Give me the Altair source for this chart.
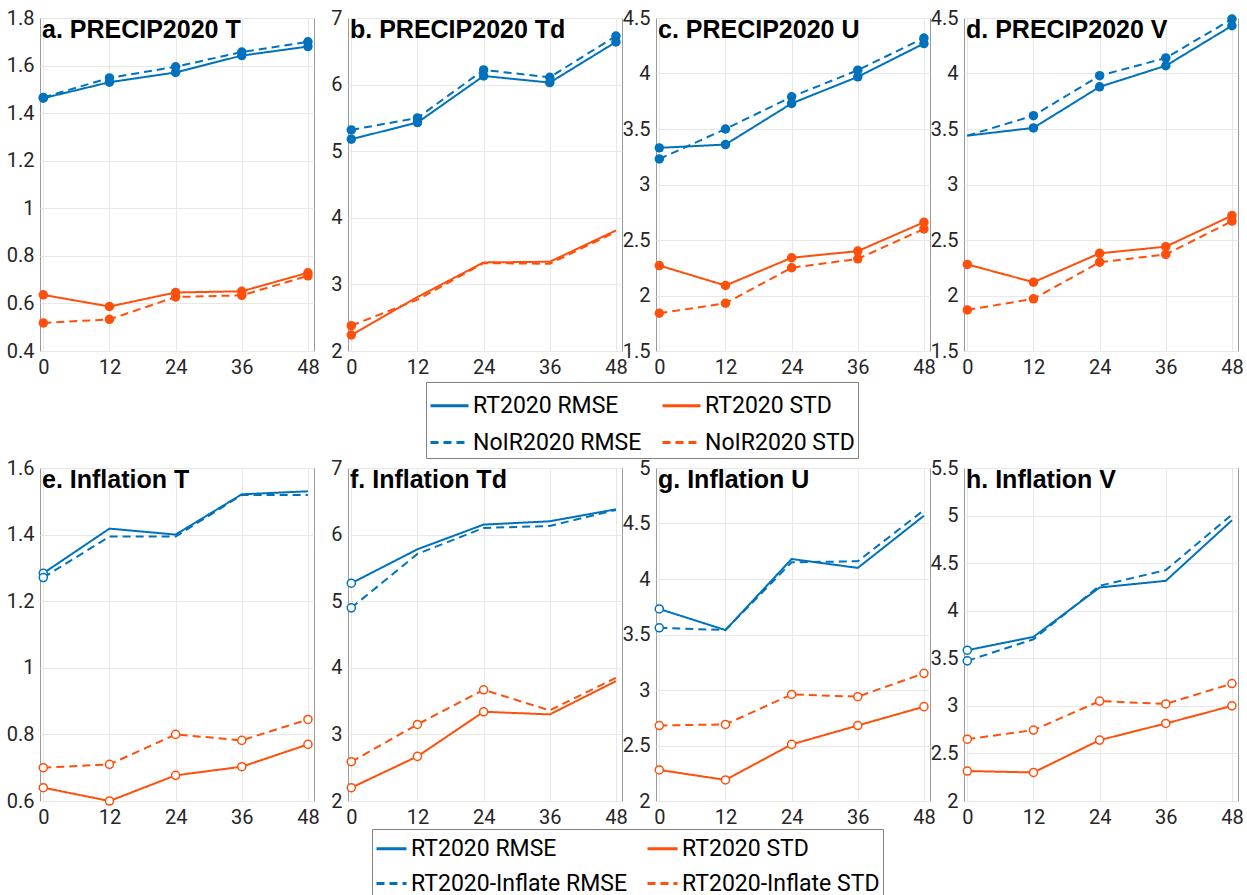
import altair as alt
import pandas as pd
import numpy as np

steps = [0, 12, 24, 36, 48]

BLUE = "#0072BD"
ORANGE = "#FF4F0A"

top_series = ["RT2020 RMSE", "RT2020 STD", "NoIR2020 RMSE", "NoIR2020 STD"]
bottom_series = ["RT2020 RMSE", "RT2020 STD", "RT2020-Inflate RMSE", "RT2020-Inflate STD"]

# ---- PRECIP2020 panels ----
a_rt_rmse = [1.463, 1.530, 1.571, 1.642, 1.680]
a_rt_std = [0.636, 0.587, 0.646, 0.651, 0.729]
a_noir_rmse = [1.466, 1.548, 1.595, 1.657, 1.700]
a_noir_std = [0.518, 0.533, 0.627, 0.634, 0.716]

b_rt_rmse = [5.18, 5.43, 6.13, 6.03, 6.64]
b_rt_std = [2.24, 2.81, 3.33, 3.34, 3.81]
b_noir_rmse = [5.32, 5.50, 6.22, 6.11, 6.73]
b_noir_std = [2.38, 2.77, 3.32, 3.31, 3.79]

c_rt_rmse = [3.33, 3.36, 3.73, 3.97, 4.27]
c_rt_std = [2.27, 2.09, 2.34, 2.40, 2.66]
c_noir_rmse = [3.23, 3.50, 3.79, 4.03, 4.32]
c_noir_std = [1.84, 1.93, 2.25, 2.33, 2.60]

d_rt_rmse = [3.44, 3.51, 3.88, 4.07, 4.43]
d_rt_std = [2.28, 2.12, 2.38, 2.44, 2.72]
d_noir_rmse = [3.44, 3.62, 3.98, 4.14, 4.49]
d_noir_std = [1.87, 1.97, 2.30, 2.37, 2.67]

# ---- Inflation panels ----
e_rt_rmse = [1.284, 1.418, 1.400, 1.521, 1.530]
e_rt_std = [0.640, 0.600, 0.677, 0.703, 0.770]
e_inf_rmse = [1.271, 1.394, 1.394, 1.519, 1.519]
e_inf_std = [0.700, 0.710, 0.800, 0.782, 0.845]

f_rt_rmse = [5.27, 5.78, 6.15, 6.20, 6.38]
f_rt_std = [2.20, 2.67, 3.34, 3.30, 3.80]
f_inf_rmse = [4.90, 5.71, 6.10, 6.13, 6.37]
f_inf_std = [2.59, 3.15, 3.67, 3.36, 3.85]

g_rt_rmse = [3.73, 3.54, 4.18, 4.10, 4.57]
g_rt_std = [2.28, 2.19, 2.51, 2.68, 2.85]
g_inf_rmse = [3.56, 3.54, 4.15, 4.16, 4.62]
g_inf_std = [2.68, 2.69, 2.96, 2.94, 3.15]

h_rt_rmse = [3.585, 3.725, 4.244, 4.314, 4.95]
h_rt_std = [2.315, 2.30, 2.64, 2.815, 3.00]
h_inf_rmse = [3.473, 3.70, 4.262, 4.427, 5.01]
h_inf_std = [2.65, 2.745, 3.05, 3.02, 3.234]

# lead times that carry a marker: (RMSE lines, STD lines)
marks_a = (steps, steps)
marks_b = (steps, [0])
marks_c = (steps, steps)
marks_d = ([12, 24, 36, 48], steps)
marks_e = ([0], steps)
marks_f = ([0], [0, 12, 24])
marks_g = ([0], steps)
marks_h = ([0], steps)

# legend placement: (x offset, y offset, symbol length^2, row padding)
legend_top = (78, 364, 1444, 4)
legend_bottom = (24, 361, 900, 6)

panels = [
    ("a. PRECIP2020 T", top_series, [a_rt_rmse, a_rt_std, a_noir_rmse, a_noir_std], [0.4, 1.8], 0.2, marks_a, None),
    ("b. PRECIP2020 Td", top_series, [b_rt_rmse, b_rt_std, b_noir_rmse, b_noir_std], [2, 7], 1, marks_b, legend_top),
    ("c. PRECIP2020 U", top_series, [c_rt_rmse, c_rt_std, c_noir_rmse, c_noir_std], [1.5, 4.5], 0.5, marks_c, None),
    ("d. PRECIP2020 V", top_series, [d_rt_rmse, d_rt_std, d_noir_rmse, d_noir_std], [1.5, 4.5], 0.5, marks_d, None),
    ("e. Inflation T", bottom_series, [e_rt_rmse, e_rt_std, e_inf_rmse, e_inf_std], [0.6, 1.6], 0.2, marks_e, None),
    ("f. Inflation Td", bottom_series, [f_rt_rmse, f_rt_std, f_inf_rmse, f_inf_std], [2, 7], 1, marks_f, legend_bottom),
    ("g. Inflation U", bottom_series, [g_rt_rmse, g_rt_std, g_inf_rmse, g_inf_std], [2, 5], 0.5, marks_g, None),
    ("h. Inflation V", bottom_series, [h_rt_rmse, h_rt_std, h_inf_rmse, h_inf_std], [2, 5.5], 0.5, marks_h, None),
]

W, H = 274, 333


def make_panel(title, series, values, ydom, ystep, marks, legpos, filled):
    rows = []
    for i, (name, vals) in enumerate(zip(series, values)):
        msteps = marks[0] if i in (0, 2) else marks[1]
        for s, v in zip(steps, vals):
            rows.append({"series": name, "step": s, "value": v, "marker": s in msteps})
    df = pd.DataFrame(rows)
    yticks = [round(float(t), 2) for t in np.arange(ydom[0], ydom[1] + 1e-9, ystep)]

    if legpos is None:
        leg = None
    else:
        leg = alt.Legend(
            title=None, orient="none", legendX=legpos[0], legendY=legpos[1],
            columns=2, symbolType="stroke", symbolSize=legpos[2], symbolStrokeWidth=3,
            labelFont="Roboto", labelFontSize=23, labelColor="black", labelLimit=0,
            columnPadding=14, rowPadding=legpos[3], labelOffset=3, padding=3,
            strokeColor="#808080", fillColor="white",
        )

    # legend grid fills column by column, so order: RMSE pair first, then STD pair
    dom = [series[0], series[2], series[1], series[3]]
    x = alt.X("step:Q", scale=alt.Scale(domain=[-0.6, 49.1], nice=False, zero=False),
              axis=alt.Axis(values=steps, format="d", title=None))
    y = alt.Y("value:Q", scale=alt.Scale(domain=ydom, nice=False, zero=False),
              axis=alt.Axis(values=yticks, format="~g", title=None))
    color = alt.Color("series:N", scale=alt.Scale(domain=dom, range=[BLUE, BLUE, ORANGE, ORANGE]),
                      legend=leg)
    dash = alt.StrokeDash("series:N", scale=alt.Scale(domain=dom, range=[[1, 0], [8, 5], [1, 0], [8, 5]]),
                          legend=leg)
    base = alt.Chart(df)
    lines = base.mark_line(strokeWidth=2).encode(x=x, y=y, color=color, strokeDash=dash)
    if filled:
        pts = base.transform_filter("datum.marker").mark_point(filled=True, size=90, opacity=1).encode(
            x=x, y=y, color=color)
    else:
        pts = base.transform_filter("datum.marker").mark_point(filled=False, fill="white", size=65,
                                                                strokeWidth=1.5, opacity=1).encode(
            x=x, y=y, color=color)
    return alt.layer(lines, pts).properties(
        width=W, height=H,
        title=alt.TitleParams(text=title, anchor="start", frame="group", offset=-55, fontSize=25,
                              font="Liberation Sans", fontWeight="bold", color="black",
                              baseline="alphabetic", dx=2),
    )


charts = [make_panel(t, s, v, yd, ys, m, lp, idx < 4) for idx, (t, s, v, yd, ys, m, lp) in enumerate(panels)]

chart = alt.concat(*charts, columns=4, spacing={"row": 117, "column": 34}).resolve_scale(
    color="independent", strokeDash="independent"
).properties(
    bounds="flush",
    padding={"left": 5, "top": 7, "right": 0, "bottom": 0},
).configure_view(
    stroke="#9a9a9a", strokeWidth=1
).configure_axis(
    labelFont="Roboto", labelFontSize=20, labelColor="#262626", grid=True, gridColor="#e8e8e8",
    domain=False, ticks=False, labelPadding=6,
)

chart.save("out.html", embed_options={"renderer": "svg", "actions": False})
